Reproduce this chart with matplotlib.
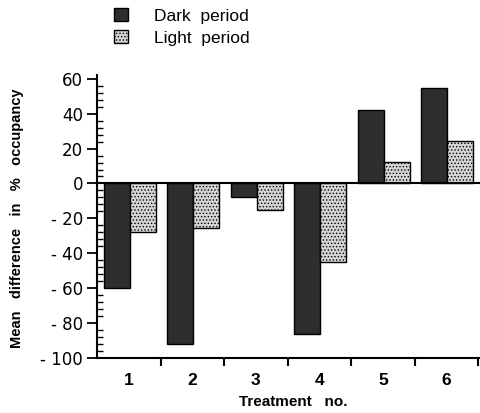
import matplotlib
matplotlib.use("Agg")
import matplotlib.pyplot as plt
import numpy as np
from matplotlib.ticker import MultipleLocator, FixedLocator, NullFormatter
from matplotlib.patches import Patch

plt.rcParams['font.family'] = ['Liberation Sans', 'DejaVu Sans']
plt.rcParams['hatch.linewidth'] = 0.6
plt.rcParams['hatch.color'] = '#444444'

treatments = ['1', '2', '3', '4', '5', '6']
dark_period = [-60, -92, -8, -86, 42, 54.5]
light_period = [-28, -25.5, -15, -45, 12.5, 24.5]
series_labels = ['Dark  period', 'Light  period']
yticks = [60, 40, 20, 0, -20, -40, -60, -80, -100]

fig = plt.figure(figsize=(4.8, 4.13), dpi=100)
ax = fig.add_axes([97/480, 55/413, 383/480, (358-77)/413])

x = np.arange(len(treatments))
w = 0.41
ax.bar(x - 0.19, dark_period, w, color='#2e2e2e', edgecolor='black', linewidth=1.0, zorder=2)
ax.bar(x + 0.22, light_period, w, color='#d4d4d4', edgecolor='black', linewidth=1.0,
       hatch='.....', zorder=2)

ax.axhline(0, color='black', linewidth=1.5, zorder=3)
ax.set_xlim(-0.5, 5.53)
ax.set_ylim(-100, 61)

for s in ['top', 'right']:
    ax.spines[s].set_visible(False)
ax.spines['left'].set_linewidth(1.5)
ax.spines['bottom'].set_linewidth(1.5)
ax.spines['left'].set_bounds(-100, 62)

ax.yaxis.set_major_locator(FixedLocator(yticks))
ax.set_yticklabels([f'{v}' if v >= 0 else f'- {abs(v)}' for v in yticks],
                   fontsize=12, family=['DejaVu Sans'])
ax.yaxis.set_minor_locator(MultipleLocator(4))
ax.tick_params(axis='y', which='major', direction='out', length=7, width=1.3, pad=3)
ax.tick_params(axis='y', which='minor', direction='in', length=4, width=1.0)

ax.set_xticks(x)
ax.set_xticklabels(treatments, fontsize=12.5, fontweight='bold')
ax.tick_params(axis='x', which='major', length=0, pad=11)
ax.xaxis.set_minor_locator(FixedLocator(np.arange(0.5, 5.6, 1.0)))
ax.xaxis.set_minor_formatter(NullFormatter())
ax.tick_params(axis='x', which='minor', direction='out', length=6, width=1.5)

fig.text(293/480, 1 - 402/413, 'Treatment   no.', ha='center', va='center',
         fontsize=11, fontweight='bold')
fig.text(17/480, 1 - 218/413, 'Mean   difference   in   %   occupancy', rotation=90,
         ha='center', va='center', fontsize=10.5, fontweight='bold')

handles = [Patch(facecolor='#2e2e2e', edgecolor='black'),
           Patch(facecolor='#d4d4d4', edgecolor='black', hatch='.....')]
fig.legend(handles, series_labels, loc='upper left', bbox_to_anchor=(114/480, 1 - 8/413),
           frameon=False, fontsize=12.5, handlelength=0.8, handleheight=0.8,
           handletextpad=1.5, labelspacing=0.37, borderaxespad=0, borderpad=0)

fig.savefig('out.png', dpi=100)
